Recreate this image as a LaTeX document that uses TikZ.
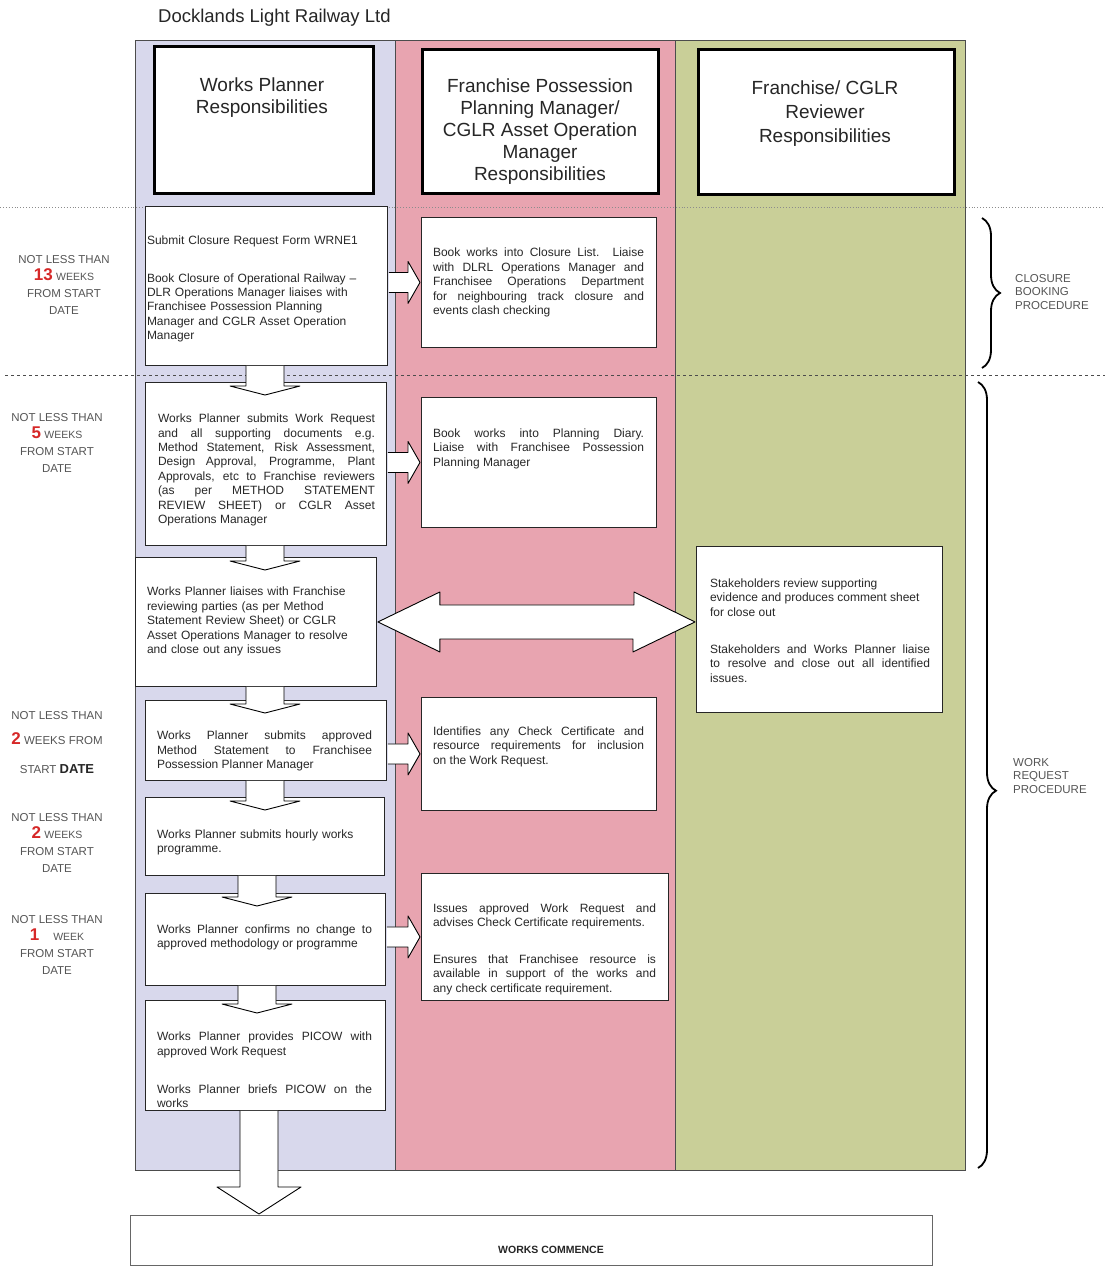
\documentclass[tikz,border=0pt]{standalone}
\usepackage{fontspec}
\setmainfont{Liberation Sans}
\usetikzlibrary{calc,decorations.pathreplacing}

\definecolor{lanelav}{RGB}{216,216,236}
\definecolor{lanepink}{RGB}{232,164,176}
\definecolor{lanegreen}{RGB}{201,207,152}
\definecolor{weekred}{RGB}{214,40,40}
\definecolor{inktext}{RGB}{40,40,40}
\definecolor{labelgrey}{RGB}{85,85,85}

% week count in the time column
\newcommand\wknum[1]{{\fontsize{17}{17}\selectfont\bfseries\color{weekred}#1}}
\newcommand\wkword[1]{{\fontsize{10.5}{17}\selectfont #1}}

% white block arrow pointing down from one step box to the next
\newcommand\flowdown[3]{%
  \draw[blockarrow] ($(#3 |- #1.south)+(-19,0)$) -- ($(#3 |- #2.north)+(-19,4)$) -- ++(-16,0)
    -- ($(#3 |- #2.north)+(0,13)$) -- ($(#3 |- #2.north)+(35,4)$) -- ++(-16,0)
    -- ($(#3 |- #1.south)+(19,0)$);}

% white block arrow pointing right into the next lane
\newcommand\flowright[2]{%
  \draw[blockarrow] ($(#1.east |- #2.west)+(1,-10)$) -- ($(#2.west)+(-13,-10)$) -- ++(0,-11)
    -- ($(#2.west)+(-1,0)$) -- ($(#2.west)+(-13,21)$) -- ++(0,-11)
    -- ($(#1.east |- #2.west)+(1,10)$);}

\hbadness=10000

\begin{document}
\begin{tikzpicture}[x=1pt,y=-1pt,
  lane/.style={draw=black!70, line width=0.8pt},
  hdrbox/.style={draw=black, line width=3.2pt, fill=white, anchor=north west, inner sep=0pt},
  stepbox/.style={draw=black!85, line width=0.9pt, fill=white, anchor=north west, inner sep=0pt},
  hdrtext/.style={font=\fontsize{19}{22}\selectfont, align=center, text=black!85, inner sep=0pt},
  bodytext/.style={font=\fontsize{12}{14.4}\selectfont, text=inktext, inner sep=0pt},
  jtext/.style={bodytext, align=justify},
  ltext/.style={bodytext, align=left},
  timetext/.style={font=\fontsize{11.5}{17}\selectfont, text=labelgrey, align=center, inner sep=0pt},
  blockarrow/.style={draw=black, line width=0.9pt, fill=white, line join=round},
  phasebrace/.style={decorate, decoration={brace, amplitude=18pt}, line width=1.8pt},
  phasetext/.style={font=\fontsize{11.5}{13.5}\selectfont, text=labelgrey, align=left, anchor=west, inner sep=0pt},
]
\fill[white] (0,0) rectangle (1105,1267);
\useasboundingbox (0,0) rectangle (1105,1267);

% title
\node[anchor=west, font=\fontsize{18.5}{22}\selectfont, text=black!85, inner sep=0pt] (title) at (158,18) {Docklands Light Railway Ltd};

% swim lanes
\fill[lanelav] (135,40) rectangle (395,1170);
\fill[lanepink] (395,40) rectangle (675,1170);
\fill[lanegreen] (675,40) rectangle (965,1170);
\draw[lane] (135,40) rectangle (965,1170);
\draw[lane] (395,40) -- (395,1170);
\draw[lane] (675,40) -- (675,1170);

% phase separators
\draw[black!45, dotted, line width=0.9pt] (0,207) -- (1105,207);
\draw[black!70, dashed, line width=0.8pt] (5,375) -- (1105,375);

% lane headers
\node[hdrbox, minimum width=219pt, minimum height=147pt] (h1) at (153,45) {};
\node[hdrbox, minimum width=236pt, minimum height=144pt] (h2) at (421,48) {};
\node[hdrbox, minimum width=256pt, minimum height=145pt] (h3) at (697,48) {};
\node[hdrtext] (h1t) at (262,97.5) {Works Planner\\Responsibilities};
\node[hdrtext] (h2t) at (540,131.5) {Franchise Possession\\Planning Manager/\\CGLR Asset Operation\\Manager\\Responsibilities};
\node[hdrtext] (h3t) at (825,114) {Franchise/ CGLR\\[2pt]Reviewer\\[2pt]Responsibilities};

% works planner steps
\node[stepbox, minimum width=242pt, minimum height=159pt] (b1) at (145,206) {};
\node[stepbox, minimum width=241pt, minimum height=163pt] (b2) at (145,382) {};
\node[stepbox, minimum width=241pt, minimum height=129pt] (b3) at (135,557) {};
\node[stepbox, minimum width=241pt, minimum height=80pt] (b4) at (145,700) {};
\node[stepbox, minimum width=239pt, minimum height=78pt] (b5) at (145,797) {};
\node[stepbox, minimum width=240pt, minimum height=92pt] (b6) at (145,893) {};
\node[stepbox, minimum width=240pt, minimum height=110pt] (b7) at (145,1000) {};

% possession planning steps
\node[stepbox, minimum width=235pt, minimum height=130pt] (m1) at (421,217) {};
\node[stepbox, minimum width=235pt, minimum height=130pt] (m2) at (421,397) {};
\node[stepbox, minimum width=235pt, minimum height=113pt] (m3) at (421,697) {};
\node[stepbox, minimum width=247pt, minimum height=127pt] (m4) at (421,873) {};

% reviewer step
\node[stepbox, minimum width=246pt, minimum height=166pt] (r1) at (696,546) {};

% final step
\node[stepbox, draw=black!60, minimum width=802pt, minimum height=50pt] (wc) at (130,1215) {};
\node[font=\fontsize{10.5}{12}\selectfont\bfseries, text=black!85, inner sep=0pt] (wct) at (551,1250) {WORKS COMMENCE};

% step texts
\node[ltext, text width=228pt] (b1t) at (261,289) {Submit Closure Request Form WRNE1\\[23pt]Book Closure of Operational Railway –\\DLR Operations Manager liaises with\\Franchisee Possession Planning\\Manager and CGLR Asset Operation\\Manager};
\node[jtext, text width=217pt] (b2t) at (266.5,470) {Works Planner submits Work Request\linebreak and all supporting documents e.g.\linebreak Method Statement, Risk Assessment,\linebreak Design Approval, Programme, Plant\linebreak Approvals, etc to Franchise reviewers\linebreak (as per METHOD STATEMENT\linebreak REVIEW SHEET) or CGLR Asset\linebreak Operations Manager};
\node[ltext, text width=220pt] (b3t) at (257,621.5) {Works Planner liaises with Franchise\\reviewing parties (as per Method\\Statement Review Sheet) or CGLR\\Asset Operations Manager to resolve\\and close out any issues};
\node[jtext, text width=215pt] (b4t) at (264.5,751) {Works Planner submits approved\linebreak Method Statement to Franchisee\linebreak Possession Planner Manager};
\node[ltext, text width=215pt] (b5t) at (264.5,842.5) {Works Planner submits hourly works\\programme.};
\node[jtext, text width=215pt] (b6t) at (264.5,937.5) {Works Planner confirms no change to\linebreak approved methodology or programme};
\node[jtext, text width=215pt] (b7t) at (264.5,1070) {Works Planner provides PICOW with\linebreak approved Work Request\\[23.6pt]Works Planner briefs PICOW on the\linebreak works};

\node[jtext, text width=211pt] (m1t) at (538.5,282.5) {Book works into Closure List. Liaise\linebreak with DLRL Operations Manager and\linebreak Franchisee Operations Department\linebreak for neighbouring track closure and\linebreak events clash checking};
\node[jtext, text width=211pt] (m2t) at (538.5,448.5) {Book works into Planning Diary.\linebreak Liaise with Franchisee Possession\linebreak Planning Manager};
\node[jtext, text width=211pt] (m3t) at (538.5,746.5) {Identifies any Check Certificate and\linebreak resource requirements for inclusion\linebreak on the Work Request.};
\node[jtext, text width=223pt] (m4t) at (544.5,949) {Issues approved Work Request and\linebreak advises Check Certificate requirements.\\[22.6pt]Ensures that Franchisee resource is\linebreak available in support of the works and\linebreak any check certificate requirement.};

\node[jtext, text width=220pt] (r1t) at (820,630.5) {Stakeholders review supporting\\evidence and produces comment sheet\\for close out\\[22.6pt]Stakeholders and Works Planner liaise\linebreak to resolve and close out all identified\linebreak issues.};

% time before start date
\node[timetext] (t1) at (64,285) {NOT LESS THAN\\\wknum{13} \wkword{WEEKS}\\FROM START\\DATE};
\node[timetext] (t2) at (57,442.5) {NOT LESS THAN\\\wknum{5} \wkword{WEEKS}\\FROM START\\DATE};
\node[timetext] (t3) at (57,743) {NOT LESS THAN\\[8pt]\wknum{2} WEEKS FROM\\[12pt]START {\fontsize{13}{17}\selectfont\bfseries\color{black!85}DATE}};
\node[timetext] (t4) at (57,842.5) {NOT LESS THAN\\\wknum{2} \wkword{WEEKS}\\FROM START\\DATE};
\node[timetext] (t5) at (57,945) {NOT LESS THAN\\\wknum{1}\hspace{14pt}\wkword{WEEK}\\FROM START\\DATE};

% flow arrows down the works planner lane
\coordinate (ax1) at (265,0);
\coordinate (ax2) at (257,0);
\coordinate (ax3) at (259,0);
\flowdown{b1}{b2}{ax1}
\flowdown{b2}{b3}{ax1}
\flowdown{b3}{b4}{ax1}
\flowdown{b4}{b5}{ax1}
\flowdown{b5}{b6}{ax2}
\flowdown{b6}{b7}{ax2}
\draw[blockarrow] ($(ax3 |- b7.south)+(-19,0)$) -- ($(ax3 |- wc.north)+(-19,-28)$) -- ++(-23,0)
  -- ($(ax3 |- wc.north)+(0,-1)$) -- ($(ax3 |- wc.north)+(42,-28)$) -- ++(-23,0)
  -- ($(ax3 |- b7.south)+(19,0)$);

% hand-offs to the possession planning lane
\flowright{b1}{m1}
\flowright{b2}{m2}
\flowright{b4}{m3}
\flowright{b6}{m4}

% two-way liaison with reviewers
\draw[blockarrow] ($(b3.east)+(1,0)$) -- ++(62,-30) -- ++(0,13) -- ($(r1.west |- b3.east)+(-62,-17)$)
  -- ++(0,-13) -- ($(r1.west |- b3.east)+(-1,0)$) -- ++(-62,30) -- ++(0,-13)
  -- ($(b3.east)+(63,17)$) -- ++(0,13) -- cycle;

% procedure braces
\coordinate (cb1) at (982,218);
\coordinate (cb2) at (982,368);
\coordinate (wr1) at (978,382);
\coordinate (wr2) at (978,1168);
\draw[phasebrace] (cb1) -- (cb2);
\draw[phasebrace, decoration={brace, amplitude=18pt, aspect=0.52}] (wr1) -- (wr2);
\node[phasetext] (cbt) at (1015,292) {CLOSURE\\BOOKING\\PROCEDURE};
\node[phasetext] (wrt) at (1013,776) {WORK\\REQUEST\\PROCEDURE};
\end{tikzpicture}
\end{document}
